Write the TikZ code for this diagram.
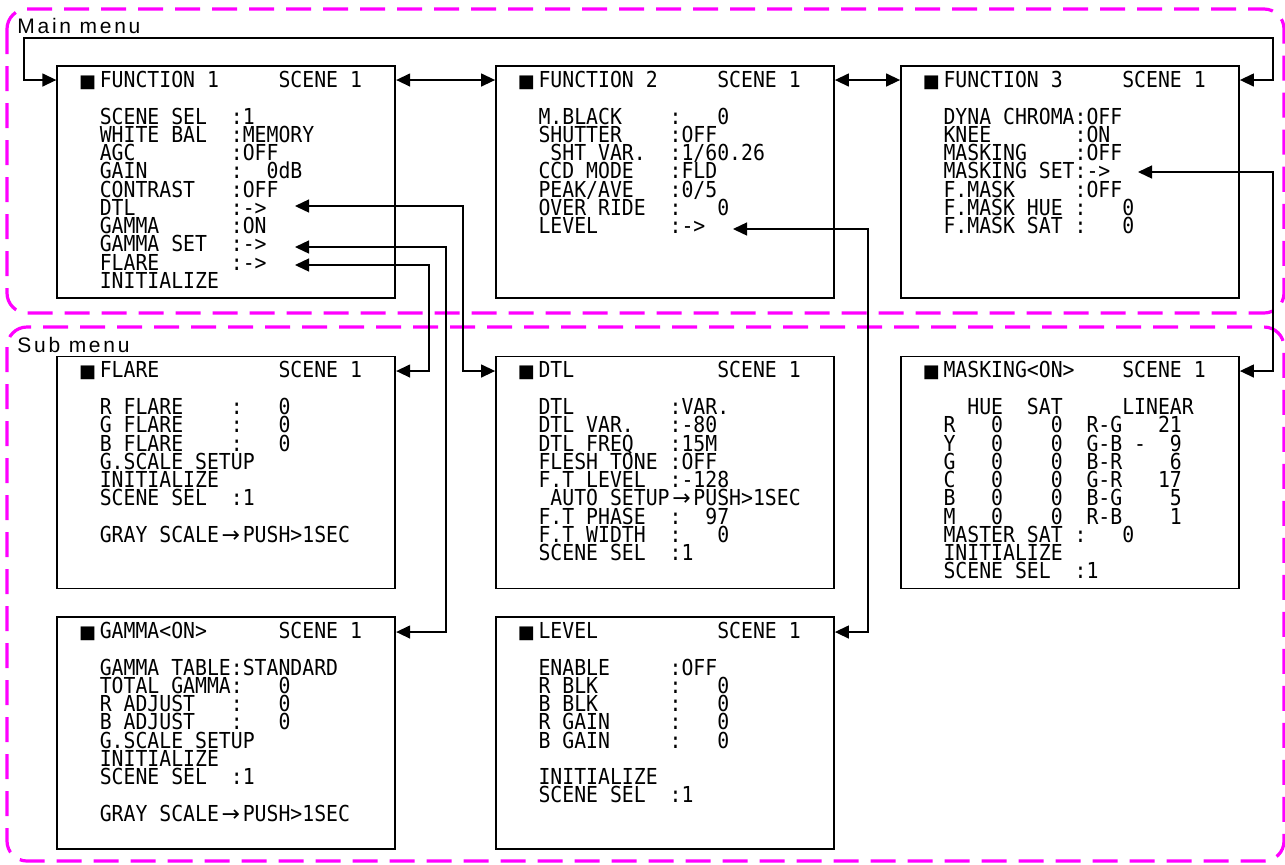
\documentclass[tikz,border=0pt]{standalone}
\usepackage{fontspec}
\usetikzlibrary{arrows.meta,calc}
\newfontfamily\menufont[FakeStretch=0.9]{DejaVu Sans Mono}
\newfontfamily\symfont{DejaVu Sans}
\newfontfamily\labelfont[LetterSpace=13]{Liberation Sans}
\definecolor{mg}{RGB}{255,0,255}
\newlength\cw
\settowidth\cw{\menufont\fontsize{11pt}{9.125pt}\selectfont M}
\newcommand\blk{\llap{{\symfont\fontsize{9pt}{9pt}\selectfont ■}\kern0.3\cw}}
\newcommand\sk[1]{\hspace*{#1\cw}}
\newcommand\ra{\makebox[2\cw]{\symfont →}}

\begin{document}
\begin{tikzpicture}[x=0.5pt, y=-0.5pt,
  menubox/.style={draw, line width=0.9pt, minimum width=169pt, minimum height=116pt, inner sep=0pt},
  menutext/.style={anchor=base west, inner sep=0pt, align=left, text width=160pt,
    font={\menufont\fontsize{11pt}{9.125pt}\selectfont\lineskiplimit=-20pt},
    execute at begin node={\spaceskip=\cw\relax\xspaceskip=\cw\relax}},
  region/.style={draw=mg, line width=1.6pt, dash pattern=on 12.5pt off 6pt, rounded corners=10pt},
  grouplabel/.style={anchor=base west, inner sep=0pt, font={\labelfont\fontsize{10.5pt}{12pt}\selectfont}},
  link/.style={line width=0.7pt, arrows={Triangle[length=7pt,width=6.5pt]-Triangle[length=7pt,width=6.5pt]}}
]
\useasboundingbox (0,0) rectangle (1285,864);
% menu groups
\draw[region] (7,9) rectangle (1284,313);
\draw[region] (7,327) rectangle (1284,861);
\node[grouplabel] (mainlbl) at (17,33) {Main menu};
\node[grouplabel] (sublbl) at (17,352) {Sub menu};
% screens
\node[menubox] (f1) at (226.25,182) {};
\node[menubox] (f2) at (665,182) {};
\node[menubox] (f3) at (1070,182) {};
\node[menubox] (flare) at (226.25,472.5) {};
\node[menubox] (dtl) at (665,472.5) {};
\node[menubox] (masking) at (1070,472.5) {};
\node[menubox] (gamma) at (226.25,733) {};
\node[menubox] (level) at (665,733) {};
% FUNCTION 1
\node[menutext] (f1ttl) at ($(f1.north west)+(43,22)$) {\blk FUNCTION~1~~~~~SCENE~1};
\node[menutext] (f1txt) at ($(f1.north west)+(43,59)$) {SCENE~SEL~~:1\\WHITE~BAL~~:MEMORY\\AGC~~~~~~~~:OFF\\GAIN~~~~~~~:~~0dB\\CONTRAST~~~:OFF\\DTL~~~~~~~~:->\\GAMMA~~~~~~:ON\\GAMMA~SET~~:->\\FLARE~~~~~~:->\\INITIALIZE};
% FUNCTION 2
\node[menutext] (f2ttl) at ($(f2.north west)+(43,22)$) {\blk FUNCTION~2~~~~~SCENE~1};
\node[menutext] (f2txt) at ($(f2.north west)+(43,59)$) {M.BLACK~~~~:~~~0\\SHUTTER~~~~:OFF\\\sk1SHT~VAR.~~:1/60.26\\CCD~MODE~~~:FLD\\PEAK/AVE~~~:0/5\\OVER~RIDE~~:~~~0\\LEVEL~~~~~~:->};
% FUNCTION 3
\node[menutext] (f3ttl) at ($(f3.north west)+(43,22)$) {\blk FUNCTION~3~~~~~SCENE~1};
\node[menutext] (f3txt) at ($(f3.north west)+(43,59)$) {DYNA~CHROMA:OFF\\KNEE~~~~~~~:ON\\MASKING~~~~:OFF\\MASKING~SET:->\\F.MASK~~~~~:OFF\\F.MASK~HUE~:~~~0\\F.MASK~SAT~:~~~0};
% FLARE
\node[menutext] (flarettl) at ($(flare.north west)+(43,22)$) {\blk FLARE~~~~~~~~~~SCENE~1};
\node[menutext] (flaretxt) at ($(flare.north west)+(43,59)$) {R~FLARE~~~~:~~~0\\G~FLARE~~~~:~~~0\\B~FLARE~~~~:~~~0\\G.SCALE~SETUP\\INITIALIZE\\SCENE~SEL~~:1\\[9.125pt]GRAY~SCALE\ra PUSH>1SEC};
% DTL
\node[menutext] (dtlttl) at ($(dtl.north west)+(43,22)$) {\blk DTL~~~~~~~~~~~~SCENE~1};
\node[menutext] (dtltxt) at ($(dtl.north west)+(43,59)$) {DTL~~~~~~~~:VAR.\\DTL~VAR.~~~:-80\\DTL~FREQ~~~:15M\\FLESH~TONE~:OFF\\F.T~LEVEL~~:-128\\\sk1AUTO~SETUP\ra PUSH>1SEC\\F.T~PHASE~~:~~97\\F.T~WIDTH~~:~~~0\\SCENE~SEL~~:1};
% MASKING
\node[menutext] (maskingttl) at ($(masking.north west)+(43,22)$) {\blk MASKING<ON>~~~~SCENE~1};
\node[menutext] (maskingtxt) at ($(masking.north west)+(43,59)$) {\sk2HUE~~SAT~~~~~LINEAR\\R~~~0~~~~0~~R-G~~~21\\Y~~~0~~~~0~~G-B~-~~9\\G~~~0~~~~0~~B-R~~~~6\\C~~~0~~~~0~~G-R~~~17\\B~~~0~~~~0~~B-G~~~~5\\M~~~0~~~~0~~R-B~~~~1\\MASTER~SAT~:~~~0\\INITIALIZE\\SCENE~SEL~~:1};
% GAMMA
\node[menutext] (gammattl) at ($(gamma.north west)+(43,22)$) {\blk GAMMA<ON>~~~~~~SCENE~1};
\node[menutext] (gammatxt) at ($(gamma.north west)+(43,59)$) {GAMMA~TABLE:STANDARD\\TOTAL~GAMMA:~~~0\\R~ADJUST~~~:~~~0\\B~ADJUST~~~:~~~0\\G.SCALE~SETUP\\INITIALIZE\\SCENE~SEL~~:1\\[9.125pt]GRAY~SCALE\ra PUSH>1SEC};
% LEVEL
\node[menutext] (levelttl) at ($(level.north west)+(43,22)$) {\blk LEVEL~~~~~~~~~~SCENE~1};
\node[menutext] (leveltxt) at ($(level.north west)+(43,59)$) {ENABLE~~~~~:OFF\\R~BLK~~~~~~:~~~0\\B~BLK~~~~~~:~~~0\\R~GAIN~~~~~:~~~0\\B~GAIN~~~~~:~~~0\\[9.125pt]INITIALIZE\\SCENE~SEL~~:1};
% sub menu entries
\coordinate (f1dtl) at (295,206);
\coordinate (f1gam) at (295,247);
\coordinate (f1fla) at (295,265);
\coordinate (f2lev) at (733,229);
\coordinate (f3msk) at (1138,172);
% page links
\draw[link] (f1.east |- 0,80) -- (f2.west |- 0,80);
\draw[link] (f2.east |- 0,80) -- (f3.west |- 0,80);
\draw[link] (f1.west |- 0,80) -| (24,38) -| (1273,80) -- (f3.east |- 0,80);
\draw[link] (f1dtl) -| (463,371) -- (dtl.west |- 0,371);
\draw[link] (f1gam) -| (446,632) -- (gamma.east |- 0,632);
\draw[link] (f1fla) -| (429,371) -- (flare.east |- 0,371);
\draw[link] (f2lev) -| (868,632) -- (level.east |- 0,632);
\draw[link] (f3msk) -| (1273,371) -- (masking.east |- 0,371);
\end{tikzpicture}
\end{document}
